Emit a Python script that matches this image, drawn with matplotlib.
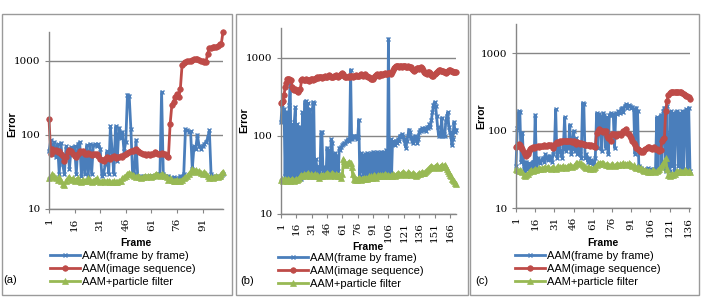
import matplotlib
matplotlib.use("Agg")
import matplotlib.pyplot as plt
from matplotlib.patches import Rectangle
from matplotlib.lines import Line2D

# ---------------- data ----------------
series_names = ["AAM(frame by frame)", "AAM(image sequence)", "AAM+particle filter"]
panel_labels = ["(a)", "(b)", "(c)"]
xtick_labels_a = [1, 16, 31, 46, 61, 76, 91]
xtick_labels_b = [1, 16, 31, 46, 61, 76, 91, 106, 121, 136, 151, 166]
xtick_labels_c = [1, 16, 31, 46, 61, 76, 91, 106, 121, 136]
ytick_values = [10, 100, 1000]

a_frame = [60, 85, 55, 80, 50, 75, 30, 78, 40, 30,
           70, 65, 35, 68, 55, 70, 30, 75, 80, 28,
           60, 30, 72, 28, 75, 30, 72, 75, 70, 75,
           65, 28, 30, 40, 60, 30, 130, 60, 30, 130,
           45, 125, 90, 110, 60, 80, 350, 340, 120, 30,
           30, 85, 28, 27, 26, 28, 27, 28, 27, 28,
           28, 27, 28, 28, 30, 28, 380, 30, 28, 27,
           28, 26, 25, 27, 26, 25, 26, 28, 27, 30,
           120, 115, 110, 112, 35, 70, 65, 100, 70, 65,
           70, 75, 80, 90, 115, 30, 27, 28, 27, 28,
           27, 28, 30]
a_seq = [165, 55, 65, 60, 62, 58, 60, 55, 52, 45,
         50, 58, 62, 60, 55, 52, 50, 55, 60, 58,
         60, 56, 55, 57, 55, 54, 56, 55, 56, 52,
         48, 46, 45, 48, 50, 49, 48, 50, 52, 49,
         50, 51, 52, 50, 54, 56, 57, 58, 60, 60,
         62, 64, 60, 58, 57, 55, 55, 54, 55, 54,
         55, 56, 58, 57, 56, 55, 57, 56, 55, 52,
         50, 140, 250, 280, 330, 360, 320, 420, 870, 930,
         950, 980, 1000, 1000, 1020, 1050, 1060, 1050, 1020, 1000,
         990, 970, 960, 1250, 1500, 1500, 1520, 1550, 1550, 1580,
         1700, 1700, 2450]
a_pf = [26, 27, 30, 28, 26, 25, 27, 24, 22, 21,
        24, 26, 27, 25, 26, 24, 25, 26, 24, 23,
        25, 24, 24, 26, 25, 23, 24, 25, 26, 24,
        23, 24, 24, 23, 24, 24, 23, 23, 24, 23,
        23, 24, 24, 26, 27, 28, 30, 31, 30, 29,
        28, 27, 28, 27, 26, 27, 28, 27, 28, 28,
        27, 28, 29, 30, 29, 28, 30, 29, 28, 27,
        25, 26, 25, 24, 24, 25, 24, 24, 25, 26,
        27, 28, 30, 32, 35, 33, 34, 32, 33, 31,
        30, 32, 30, 28, 26, 27, 26, 27, 28, 27,
        28, 30, 32]

b_frame = [150, 250, 160, 220, 30, 200, 150, 30, 250, 450,
           30, 140, 28, 150, 230, 30, 140, 120, 30, 130,
           28, 200, 30, 270, 280, 30, 260, 30, 220, 60,
           30, 270, 260, 30, 50, 40, 30, 40, 30, 110,
           110, 35, 40, 32, 30, 70, 35, 65, 30, 90,
           80, 30, 40, 60, 30, 55, 35, 70, 65, 72,
           75, 78, 80, 80, 85, 90, 85, 90, 700, 90,
           95, 100, 95, 100, 90, 95, 160, 30, 60, 35,
           55, 30, 58, 32, 60, 30, 58, 32, 60, 30,
           62, 30, 60, 32, 62, 30, 60, 30, 62, 60,
           30, 62, 30, 65, 30, 1750, 30, 90, 30, 85,
           80, 75, 85, 80, 90, 85, 100, 95, 105, 100,
           90, 80, 70, 85, 100, 120, 110, 95, 85, 80,
           90, 100, 95, 80, 90, 110, 120, 115, 125, 120,
           120, 125, 115, 130, 125, 140, 130, 160, 200, 250,
           270, 240, 180, 130, 100, 105, 100, 170, 100, 105,
           100, 150, 180, 200, 130, 110, 100, 75, 90, 150,
           110, 120]
b_seq = [260, 270, 280, 330, 420, 480, 530, 540, 530, 520,
         510, 420, 400, 390, 400, 380, 370, 360, 380, 400,
         520, 530, 520, 510, 530, 520, 510, 500, 520, 530,
         530, 520, 540, 530, 550, 560, 550, 560, 570, 560,
         550, 570, 560, 580, 570, 560, 580, 600, 590, 570,
         560, 570, 580, 590, 600, 580, 570, 590, 600, 620,
         630, 610, 590, 570, 560, 570, 580, 570, 590, 580,
         570, 580, 590, 600, 590, 580, 590, 600, 610, 600,
         590, 600, 610, 590, 580, 570, 560, 550, 540, 530,
         540, 570, 590, 600, 610, 600, 590, 610, 620, 600,
         610, 620, 630, 610, 620, 640, 630, 620, 660, 700,
         740, 760, 780, 790, 780, 770, 790, 780, 770, 780,
         790, 780, 770, 760, 780, 770, 760, 750, 720, 690,
         680, 700, 720, 740, 730, 720, 740, 750, 730, 700,
         660, 640, 630, 620, 650, 660, 640, 600, 590, 580,
         610, 640, 660, 680, 700, 690, 680, 670, 680, 660,
         650, 640, 660, 680, 690, 700, 680, 670, 660, 650,
         660, 650]
b_pf = [27, 28, 26, 27, 28, 27, 26, 28, 27, 26,
        27, 28, 27, 26, 27, 28, 27, 28, 29, 30,
        31, 30, 32, 31, 30, 32, 33, 31, 30, 32,
        31, 30, 31, 32, 30, 31, 30, 29, 30, 31,
        30, 31, 30, 31, 32, 33, 32, 31, 30, 32,
        33, 32, 31, 30, 32, 31, 30, 31, 30, 29,
        32, 50, 48, 45, 42, 44, 46, 44, 45, 40,
        32, 28, 27, 28, 27, 28, 29, 28, 27, 28,
        28, 29, 28, 29, 28, 29, 30, 29, 30, 29,
        30, 31, 30, 29, 30, 31, 30, 31, 30, 31,
        30, 31, 32, 31, 30, 31, 30, 31, 30, 32,
        31, 30, 31, 32, 33, 32, 31, 32, 33, 34,
        33, 32, 31, 32, 34, 33, 32, 31, 32, 33,
        32, 31, 30, 31, 32, 33, 32, 33, 34, 33,
        33, 34, 35, 36, 37, 38, 40, 41, 40, 39,
        40, 41, 42, 40, 39, 40, 41, 42, 40, 41,
        42, 40, 37, 35, 33, 31, 30, 28, 27, 26,
        25, 24]

c_frame = [35, 110, 180, 175, 40, 95, 35, 30, 40, 32,
           38, 30, 35, 40, 32, 160, 35, 45, 40, 38,
           42, 45, 40, 50, 45, 42, 48, 45, 40, 50,
           60, 190, 45, 55, 70, 50, 45, 60, 150, 55,
           70, 60, 120, 50, 65, 100, 55, 80, 50, 60,
           50, 45, 230, 220, 45, 50, 40, 45, 38, 42,
           40, 35, 45, 170, 60, 165, 150, 55, 170, 160,
           60, 150, 50, 160, 170, 160, 165, 60, 170, 165,
           180, 170, 190, 200, 175, 210, 220, 200, 215, 210,
           200, 205, 190, 50, 200, 180, 35, 32, 33, 30,
           32, 30, 31, 33, 30, 32, 31, 30, 32, 30,
           150, 30, 140, 160, 35, 180, 200, 30, 210, 35,
           30, 180, 35, 170, 30, 175, 180, 35, 170, 30,
           180, 30, 175, 190, 30, 200, 30]
c_seq = [62, 64, 68, 66, 62, 58, 54, 50, 48, 50,
         55, 58, 60, 61, 60, 62, 61, 63, 62, 64,
         63, 64, 65, 64, 63, 65, 66, 65, 64, 60,
         66, 70, 72, 70, 73, 72, 74, 73, 75, 74,
         73, 75, 74, 73, 72, 74, 70, 68, 72, 70,
         68, 70, 68, 67, 66, 65, 66, 65, 64, 65,
         64, 63, 62, 95, 100, 105, 102, 100, 98, 100,
         100, 85, 82, 80, 75, 90, 92, 90, 85, 88,
         92, 90, 88, 95, 100, 102, 105, 95, 90, 85,
         80, 75, 70, 65, 60, 58, 56, 55, 54, 53,
         56, 58, 60, 62, 61, 60, 59, 60, 61, 58,
         58, 57, 55, 56, 75, 78, 80, 180, 240, 290,
         310, 315, 320, 318, 320, 322, 320, 318, 320, 315,
         310, 300, 290, 285, 280, 270, 260]
c_pf = [32, 31, 30, 31, 30, 29, 27, 26, 27, 28,
        29, 30, 31, 30, 31, 32, 31, 32, 33, 32,
        33, 32, 33, 34, 33, 34, 33, 32, 33, 34,
        33, 32, 34, 35, 34, 33, 34, 35, 34, 33,
        34, 35, 36, 35, 34, 35, 36, 38, 39, 38,
        37, 38, 36, 35, 34, 33, 34, 33, 32, 33,
        32, 33, 34, 36, 38, 37, 38, 39, 38, 37,
        36, 37, 36, 35, 36, 37, 36, 35, 36, 37,
        36, 37, 36, 37, 38, 37, 36, 37, 38, 37,
        36, 35, 36, 34, 33, 34, 33, 32, 33, 31,
        30, 31, 30, 29, 30, 29, 30, 31, 30, 29,
        30, 31, 32, 34, 36, 38, 40, 44, 32, 27,
        26, 27, 28, 27, 28, 29, 30, 29, 30, 29,
        29, 30, 31, 30, 29, 30, 29]

panels = [
    (a_frame, a_seq, a_pf, xtick_labels_a),
    (b_frame, b_seq, b_pf, xtick_labels_b),
    (c_frame, c_seq, c_pf, xtick_labels_c),
]

# ---------------- layout (pixels) ----------------
W, H = 706, 298
fig = plt.figure(figsize=(W / 100, H / 100), dpi=100)

def fx(px):
    return px / W

def fy(py):
    return 1 - py / H

axes_px = [(49, 223, 32, 209), (281, 456, 28, 213.7), (516, 690, 24, 208.3)]
border_px = [(2, 232), (236, 468), (470, 699)]
ylabel_px = [(12, 124), (244, 120), (481, 116)]
xlabel_px = [(136, 243), (368, 247), (603, 243)]
legend_px = [(50, 251), (278, 253), (515, 251)]
plabel_px = [(10, 280), (247, 281), (482, 281)]
top_val = [2450, 2400, 2400]

colors = ["#4A7EBB", "#BE4B48", "#98B954"]
markers = ["x", "o", "^"]
msizes = [3.5, 4.0, 4.0]
lw = 2.0
grid_col = "#868686"

serif = "DejaVu Serif"
sans = "Liberation Sans"

for i, (fr, sq, pf, xt) in enumerate(panels):
    x0, x1 = border_px[i]
    fig.patches.append(Rectangle((fx(x0), fy(295)), fx(x1) - fx(x0), fy(14) - fy(295),
                                 transform=fig.transFigure, fill=False,
                                 edgecolor="#9a9a9a", linewidth=1.0, zorder=0))
    l, r, t, b = axes_px[i]
    ax = fig.add_axes([fx(l), fy(b), fx(r) - fx(l), fy(t) - fy(b)])
    frames = list(range(1, len(fr) + 1))
    for vals, c, m, ms in zip([fr, sq, pf], colors, markers, msizes):
        ax.plot(frames, vals, color=c, marker=m, markersize=ms, linewidth=lw,
                markeredgewidth=1.0 if m == "x" else 0.5, clip_on=False)
    ax.set_yscale("log")
    ax.set_ylim(10, top_val[i])
    ax.set_xlim(1, len(fr))
    ax.set_yticks(ytick_values)
    ax.set_yticklabels([str(v) for v in ytick_values], fontfamily=serif, fontsize=7.5)
    ax.yaxis.set_minor_locator(matplotlib.ticker.NullLocator())
    ax.set_xticks(xt)
    ax.set_xticklabels([str(v) for v in xt], rotation=90, fontfamily=serif, fontsize=7.5)
    ax.tick_params(axis="both", colors=grid_col, labelcolor="black", length=3, width=0.8, pad=3)
    for s in ["top", "right"]:
        ax.spines[s].set_visible(False)
    for s in ["left", "bottom"]:
        ax.spines[s].set_color(grid_col)
        ax.spines[s].set_linewidth(1.0)
    ax.grid(axis="y", color=grid_col, linewidth=1.0)
    ax.set_axisbelow(True)

    fig.text(fx(ylabel_px[i][0]), fy(ylabel_px[i][1]), "Error", rotation=90,
             ha="center", va="center", fontfamily=sans, fontweight="bold", fontsize=7.5)
    fig.text(fx(xlabel_px[i][0]), fy(xlabel_px[i][1]), "Frame",
             ha="center", va="center", fontfamily=sans, fontweight="bold", fontsize=7.5)
    fig.text(fx(plabel_px[i][0]), fy(plabel_px[i][1]), panel_labels[i],
             ha="center", va="center", fontfamily=sans, fontsize=8)

    handles = [Line2D([], [], color=c, marker=m, markersize=ms, linewidth=lw,
                      markeredgewidth=1.0 if m == "x" else 0.5)
               for c, m, ms in zip(colors, markers, msizes)]
    fig.legend(handles, series_names, loc="upper left",
               bbox_to_anchor=(fx(legend_px[i][0]), fy(legend_px[i][1])),
               bbox_transform=fig.transFigure, frameon=False,
               prop={"family": sans, "size": 8}, handlelength=2.7,
               handletextpad=0.2, labelspacing=0.25, borderpad=0,
               borderaxespad=0, markerscale=1.0)

fig.savefig("out.png", dpi=100)
